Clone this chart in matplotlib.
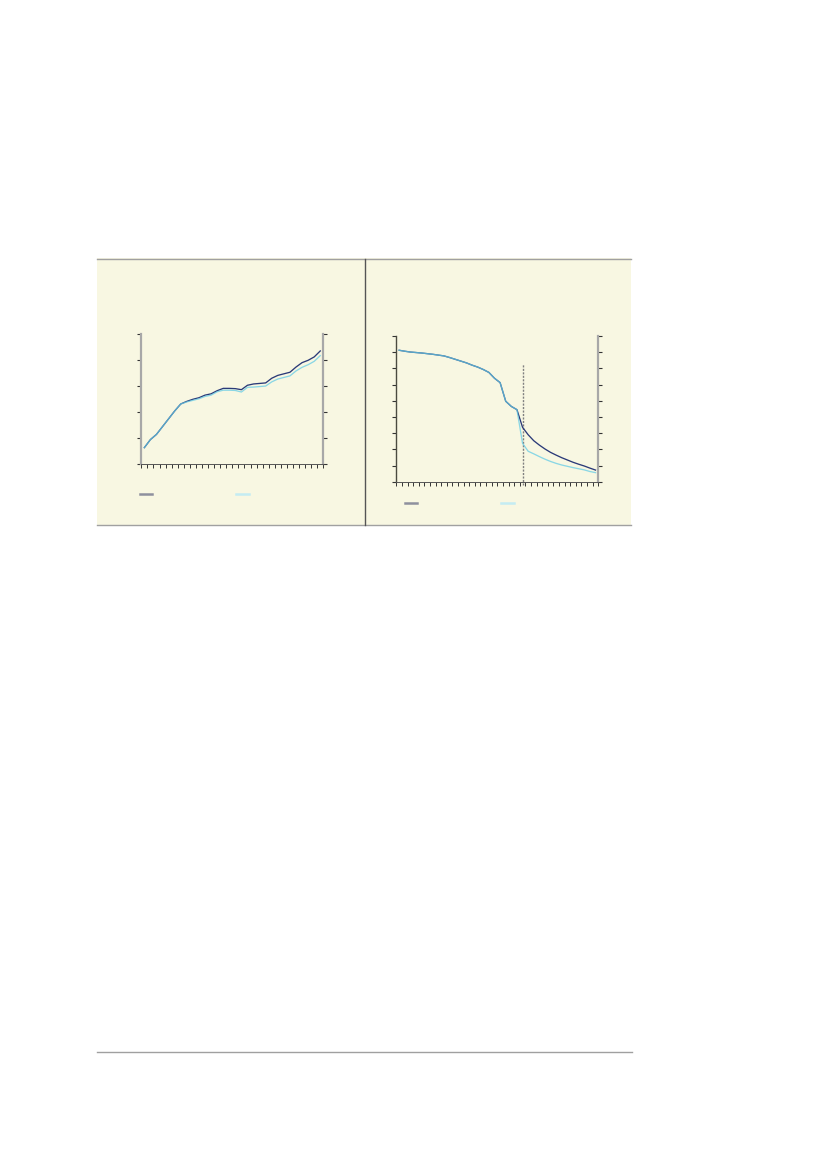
import numpy as np
import matplotlib
matplotlib.use("Agg")
import matplotlib.pyplot as plt
from matplotlib.lines import Line2D
from matplotlib.patches import Rectangle

# ---------------- data ----------------
left_dark = [6.4, 9.5, 11.5, 14.5, 17.5, 20.5, 23.2, 24.2, 25.0, 25.6,
             26.6, 27.1, 28.3, 29.2, 29.2, 29.1, 28.7, 30.4, 30.9, 31.1,
             31.3, 33.1, 34.2, 34.8, 35.4, 37.4, 39.1, 40.0, 41.3, 43.6]
left_light = [6.4, 9.5, 11.5, 14.5, 17.5, 20.5, 23.2, 24.0, 24.6, 25.2,
              26.1, 26.6, 27.9, 28.5, 28.5, 28.4, 27.8, 29.6, 29.7, 29.9,
              30.1, 31.7, 32.8, 33.4, 34.0, 35.9, 37.3, 38.3, 39.6, 41.8]

right_dark = [81.2, 80.6, 80.1, 79.8, 79.5, 79.1, 78.7, 78.2, 77.7, 76.7,
              75.6, 74.5, 73.4, 72.0, 70.8, 69.3, 67.5, 63.9, 61.2, 49.7,
              46.5, 44.5, 33.6, 29.0, 25.3, 22.6, 20.2, 18.1, 16.4, 14.8,
              13.4, 12.0, 10.8, 9.7, 8.4, 7.2]
right_light = [81.2, 80.6, 80.1, 79.8, 79.5, 79.1, 78.7, 78.2, 77.7, 76.7,
               75.6, 74.5, 73.4, 72.0, 70.8, 69.3, 67.5, 63.9, 61.2, 49.7,
               46.5, 44.5, 23.7, 18.8, 17.2, 15.5, 13.9, 12.5, 11.3, 10.3,
               9.5, 8.7, 8.0, 7.3, 6.3, 5.6]
right_marker_x = 22
right_marker_top = 72.5

left_ylim = (0, 50)
left_yticks = [0, 10, 20, 30, 40, 50]
right_ylim = (0, 90)
right_yticks = [0, 10, 20, 30, 40, 50, 60, 70, 80, 90]

# ---------------- styles ----------------
W, H = 827, 1170
BEIGE = "#F8F7E2"
DARK = "#2B3A78"
LIGHT = "#66CCE6"
SPINE_GRAY = "#A8A8A8"

fig = plt.figure(figsize=(W / 100, H / 100), dpi=100)
fig.patch.set_facecolor("white")


def fx(x):
    return x / W


def fy(y):
    return 1 - y / H


def add_axes_px(x0, y0, x1, y1):
    ax = fig.add_axes([fx(x0), fy(y1), fx(x1) - fx(x0), fy(y0) - fy(y1)])
    ax.set_zorder(5)
    return ax


# panel background and borders
fig.patches.append(Rectangle((fx(97), fy(525)), fx(631) - fx(97), fy(258) - fy(525),
                             transform=fig.transFigure, facecolor=BEIGE,
                             edgecolor="none", zorder=-10))
fig.lines.append(Line2D([fx(97), fx(631)], [fy(258.5), fy(258.5)],
                        transform=fig.transFigure, color="#A0A0A0", lw=1.0))
fig.lines.append(Line2D([fx(97), fx(631)], [fy(524.5), fy(524.5)],
                        transform=fig.transFigure, color="#A0A0A0", lw=1.0))
fig.lines.append(Line2D([fx(364.5), fx(364.5)], [fy(258.5), fy(524.5)],
                        transform=fig.transFigure, color="#555555", lw=1.0))
# footer rule
fig.lines.append(Line2D([fx(97), fx(632)], [fy(1052.3), fy(1052.3)],
                        transform=fig.transFigure, color="#A0A0A0", lw=1.0))


def style_axes(ax, n, ylim, yticks, left_color=SPINE_GRAY, left_lw=1.6):
    ax.set_facecolor("none")
    ax.set_xlim(-0.5, n - 0.5)
    ax.set_ylim(*ylim)
    ax.set_yticks(yticks)
    ax.set_xticks(np.arange(n + 1) - 0.5)
    ax.spines["top"].set_visible(False)
    ax.spines["left"].set_color(left_color)
    ax.spines["left"].set_linewidth(left_lw)
    ax.spines["right"].set_color(SPINE_GRAY)
    ax.spines["right"].set_linewidth(1.6)
    ax.spines["bottom"].set_color("#555555")
    ax.spines["bottom"].set_linewidth(0.7)
    ax.tick_params(axis="y", left=True, right=True, direction="out", length=3,
                   width=0.8, color="#333333", labelleft=False, labelright=False)
    ax.tick_params(axis="x", bottom=True, direction="out", length=3,
                   width=0.7, color="#333333", labelbottom=False)


# left chart
ax1 = add_axes_px(141.3, 334.3, 323.3, 464.3)
style_axes(ax1, len(left_dark), left_ylim, left_yticks)
x1 = np.arange(len(left_dark))
ax1.plot(x1, left_dark, color=DARK, lw=0.95, solid_joinstyle="round")
ax1.plot(x1, left_light, color=LIGHT, lw=0.95, alpha=0.75, solid_joinstyle="round")

# right chart
ax2 = add_axes_px(396.3, 336.0, 598.3, 481.7)
style_axes(ax2, len(right_dark), right_ylim, right_yticks,
           left_color="#4B4B40", left_lw=1.0)
x2 = np.arange(len(right_dark))
ax2.vlines(right_marker_x, right_ylim[0] - 2, right_marker_top, colors="#808080",
           linestyles=(0, (1.5, 1)), lw=1.0, clip_on=False)
ax2.plot(x2, right_dark, color=DARK, lw=0.95, solid_joinstyle="round")
ax2.plot(x2, right_light, color=LIGHT, lw=0.95, alpha=0.75, solid_joinstyle="round")

# legend swatches (labels are blank in the reference)
for (xa, xb, yy, col) in [(139.7, 152, 494.3, "#8E909E"),
                          (236.3, 248.7, 494.3, "#C4ECF2"),
                          (404.7, 417, 503.3, "#8E909E"),
                          (501.3, 513.7, 503.3, "#C4ECF2")]:
    fig.lines.append(Line2D([fx(xa), fx(xb)], [fy(yy), fy(yy)],
                            transform=fig.transFigure, color=col, lw=1.8))

fig.savefig("out.png", dpi=100, facecolor=fig.get_facecolor())
